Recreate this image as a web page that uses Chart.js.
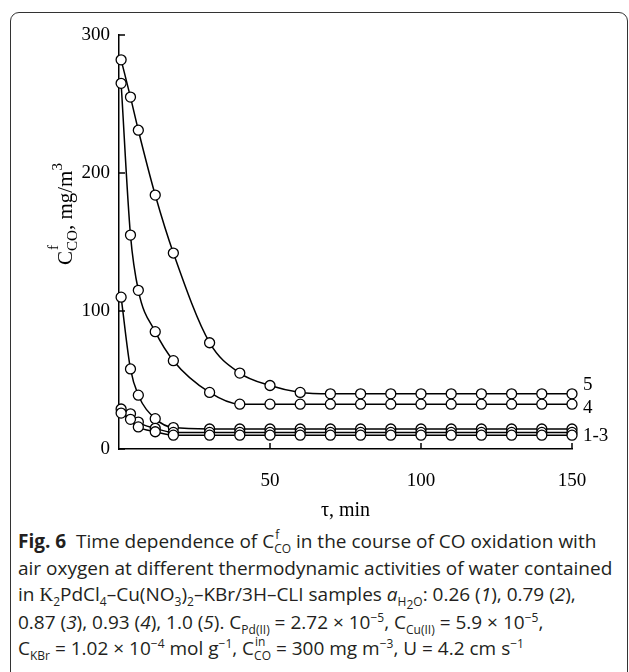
<!DOCTYPE html>
<html>
<head>
<meta charset="utf-8">
<script src="https://cdn.jsdelivr.net/npm/chart.js@4.4.0/dist/chart.umd.min.js"></script>
<style>
  body { margin: 0; background: #fff; width: 629px; height: 672px; overflow: hidden; position: relative; }
  #frame { position: absolute; left: 10px; top: 12px; width: 616px; height: 700px; border: 1px solid #333; border-radius: 9px; }
  #wrap { position: absolute; left: 0; top: 0; width: 629px; height: 500px; }
  #caption { position: absolute; left: 18px; top: 528px; font-family: 'Open Sans', sans-serif; font-size: 19px;
             line-height: 26.5px; color: #231f20; white-space: nowrap; letter-spacing: 0; }
  #caption sub, #caption sup { font-size: 12px; line-height: 0; }
  .ss { position: relative; display: inline-block; line-height: 0; }
  .ss .up { position: absolute; left: 1px; top: -6px; }
  .serif { font-family: 'Liberation Serif', serif; }
</style>
</head>
<body>
<div id="frame"></div>
<div id="wrap"><canvas id="chart"></canvas></div>
<div id="caption">
  <b>Fig. 6</b>&nbsp; Time dependence of C<span class="ss"><sub>CO</sub><sup class="up">f</sup></span> in the course of CO oxidation with<br>
  air oxygen at different thermodynamic activities of water contained<br>
  in <span class="serif">K</span><sub>2</sub>PdCl<sub>4</sub>–Cu(NO<sub>3</sub>)<sub>2</sub>–KBr/3H–CLI samples <i>a</i><sub>H<sub>2</sub>O</sub>: 0.26 (<i>1</i>), 0.79 (<i>2</i>),<br>
  0.87 (<i>3</i>), 0.93 (<i>4</i>), 1.0 (<i>5</i>). C<sub>Pd(II)</sub> = 2.72 × 10<sup>−5</sup>, C<sub>Cu(II)</sub> = 5.9 × 10<sup>−5</sup>,<br>
  C<sub>KBr</sub> = 1.02 × 10<sup>−4</sup> mol g<sup>−1</sup>, C<span class="ss"><sub>CO</sub><sup class="up">in</sup></span> = 300 mg m<sup>−3</sup>, U = 4.2 cm s<sup>−1</sup>
</div>
<script>
// time, min
const tau = [0.7, 3.8, 6.4, 12, 18, 30, 40, 50, 60, 70, 80, 90, 100, 110, 120, 130, 140, 150];

// outlet CO concentration, mg/m3
const curve1 = [26, 21.5, 16, 12.5, 10, 10, 10, 10, 10, 10, 10, 10, 10, 10, 10, 10, 10, 10];
const curve2 = [29, 25.5, 19.5, 15, 12, 12, 12, 12, 12, 12, 12, 12, 12, 12, 12, 12, 12, 12];
const curve3 = [110, 58, 39, 22, 15.5, 14.5, 14.5, 14.5, 14.5, 14.5, 14.5, 14.5, 14.5, 14.5, 14.5, 14.5, 14.5, 14.5];
const curve4 = [265, 155, 115, 85, 64, 41, 32.5, 32.5, 32.5, 32.5, 32.5, 32.5, 32.5, 32.5, 32.5, 32.5, 32.5, 32.5];
const curve5 = [282, 255, 231, 184, 142, 77, 55, 46, 41, 40, 40, 40, 40, 40, 40, 40, 40, 40];

const xTicks = [50, 100, 150];
const yTicks = [0, 100, 200, 300];

// curve labels on the right, with the series they sit next to
const endLabels = [
  { text: '5', data: curve5, dy: -9 },
  { text: '4', data: curve4, dy: 4 },
  { text: '1-3', data: curve2, dy: 4 }
];

const serif = "'Liberation Serif', 'Times New Roman', serif";

function makeSet(values) {
  return {
    data: tau.map((t, i) => ({ x: t, y: values[i] })),
    showLine: true,
    borderColor: '#000',
    borderWidth: 1.5,
    cubicInterpolationMode: 'monotone',
    pointRadius: 5,
    pointBackgroundColor: '#fff',
    pointBorderColor: '#000',
    pointBorderWidth: 1.3,
    clip: false
  };
}

// inward tick marks, curve labels and y title
const extras = {
  id: 'extras',
  afterDraw(chart) {
    const ctx = chart.ctx;
    const xs = chart.scales.x, ys = chart.scales.y;
    const area = chart.chartArea;
    ctx.save();
    ctx.strokeStyle = '#000';
    ctx.lineWidth = 1.5;
    ctx.beginPath();
    xs.ticks.forEach(t => {
      const px = xs.getPixelForValue(t.value);
      ctx.moveTo(px, area.bottom);
      ctx.lineTo(px, area.bottom - 6);
    });
    ys.ticks.forEach(t => {
      const py = ys.getPixelForValue(t.value);
      ctx.moveTo(area.left, py);
      ctx.lineTo(area.left + 6, py);
    });
    ctx.stroke();

    ctx.fillStyle = '#000';
    ctx.font = '19px ' + serif;
    ctx.textBaseline = 'middle';
    ctx.textAlign = 'left';
    endLabels.forEach(l => {
      const last = l.data.length - 1;
      const px = xs.getPixelForValue(tau[last]) + 11;
      const py = ys.getPixelForValue(l.data[last]) + l.dy;
      ctx.fillText(l.text, px, py);
    });

    // rotated y title: C^f_CO, mg/m^3
    const big = '21px ' + serif, small = '15px ' + serif;
    ctx.font = big;
    const wC = ctx.measureText('C').width;
    const wRest = ctx.measureText(', mg/m').width;
    ctx.font = small;
    const wSub = ctx.measureText('CO').width;
    const w3 = ctx.measureText('3').width;
    const total = wC + wSub + wRest + w3;
    ctx.translate(65, 214);
    ctx.rotate(-Math.PI / 2);
    let x = -total / 2;
    ctx.textBaseline = 'alphabetic';
    ctx.font = big;
    ctx.fillText('C', x, 7);
    x += wC;
    ctx.font = small;
    ctx.fillText('f', x + 1, -7);
    ctx.fillText('CO', x, 12);
    x += wSub;
    ctx.font = big;
    ctx.fillText(', mg/m', x, 7);
    x += wRest;
    ctx.font = small;
    ctx.fillText('3', x, -3);
    ctx.restore();
  }
};

new Chart(document.getElementById('chart'), {
  type: 'scatter',
  data: {
    datasets: [makeSet(curve1), makeSet(curve2), makeSet(curve3), makeSet(curve4), makeSet(curve5)]
  },
  options: {
    responsive: true,
    maintainAspectRatio: false,
    animation: false,
    layout: { padding: { top: 35, right: 57, left: 0, bottom: 0 } },
    plugins: { legend: { display: false }, tooltip: { enabled: false } },
    scales: {
      x: {
        type: 'linear',
        min: 0, max: 150,
        afterBuildTicks: s => { s.ticks = xTicks.map(v => ({ value: v })); },
        afterFit: s => { s.height = 51; },
        grid: { display: false, drawTicks: false },
        border: { display: true, color: '#000', width: 1.5 },
        ticks: { color: '#000', padding: 21, font: { family: serif, size: 19 } }
      },
      y: {
        min: 0, max: 300,
        afterBuildTicks: s => { s.ticks = yTicks.map(v => ({ value: v })); },
        afterFit: s => { s.width = 119; },
        grid: { display: false, drawTicks: false },
        border: { display: true, color: '#000', width: 1.5 },
        ticks: { color: '#000', padding: 9, font: { family: serif, size: 19 } }
      }
    }
  },
  plugins: [extras]
});

// x axis title under the axis
const xTitle = document.createElement('div');
xTitle.textContent = 'τ, min';
xTitle.style.cssText = "position:absolute;left:0;width:691px;top:498px;text-align:center;font:20px 'Liberation Serif',serif;color:#000";
document.body.appendChild(xTitle);
</script>
</body>
</html>
